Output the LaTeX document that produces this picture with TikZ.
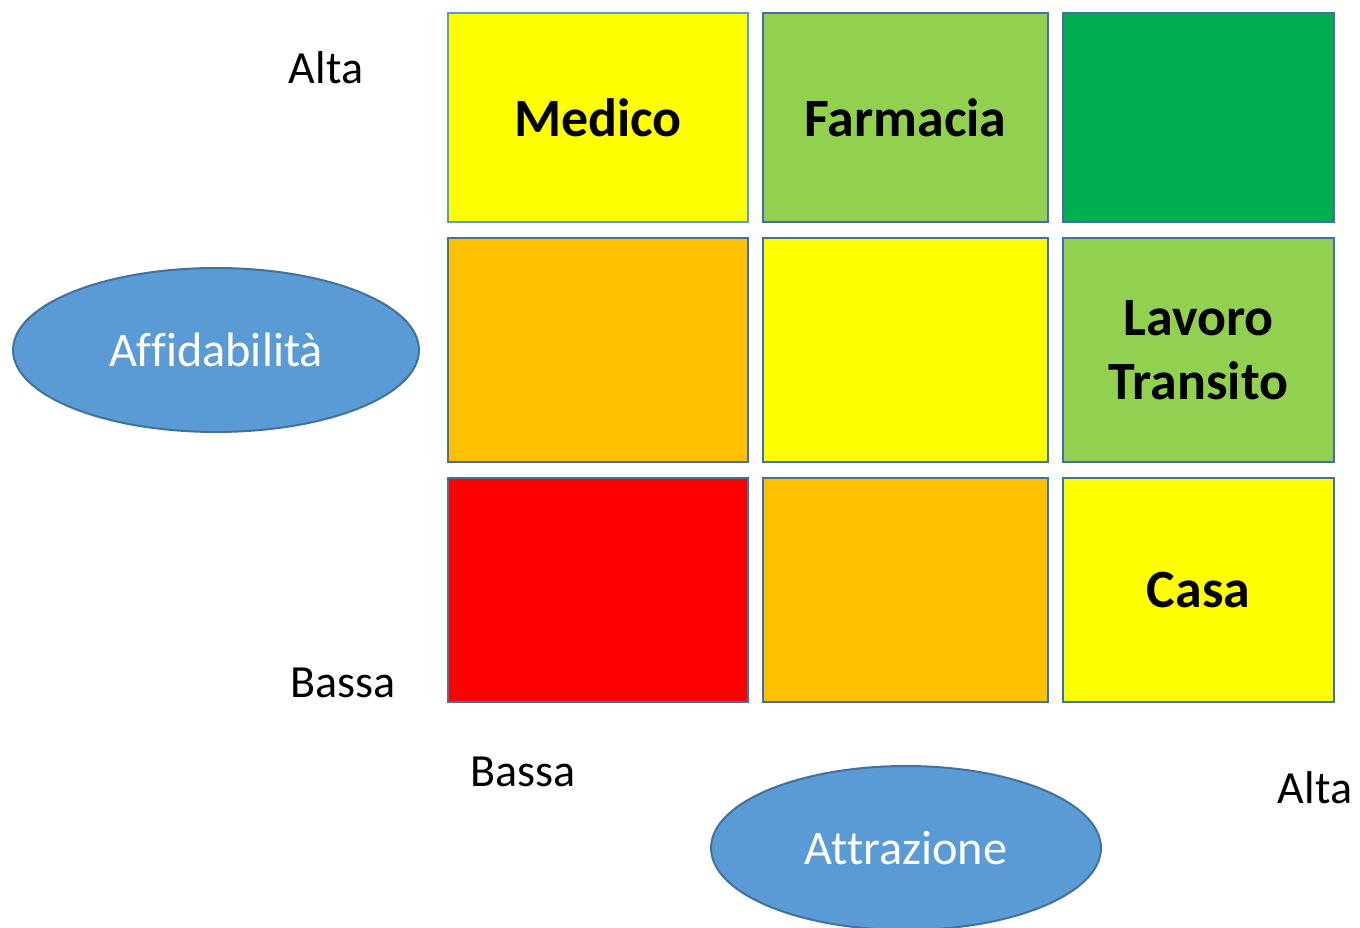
\documentclass[tikz,border=0pt]{standalone}
\usepackage{fontspec}
\setmainfont{Carlito}[Ligatures=NoCommon]
\usetikzlibrary{shapes.geometric}
\definecolor{cyel}{HTML}{FFFF00}
\definecolor{clime}{HTML}{92D050}
\definecolor{cgreen}{HTML}{00B050}
\definecolor{corange}{HTML}{FFC000}
\definecolor{cred}{HTML}{FF0000}
\definecolor{cellline}{HTML}{41719C}
\definecolor{lightline}{HTML}{5B9BD5}
\definecolor{blobfill}{HTML}{5B9BD5}
\begin{document}
\begin{tikzpicture}[x=0.02cm,y=-0.02cm]
\def\ca{598}
\def\cb{905.5}
\def\cc{1198.5}
\def\ra{117.5}
\def\rb{350}
\def\rc{590}

\tikzstyle cell=[draw=cellline, line width=0.04cm, inner sep=0pt, minimum height=4.48cm]
\tikzstyle word=[font=\fontsize{30.7}{36.4}\selectfont\bfseries, align=center]
\tikzstyle axis=[font=\fontsize{26.2}{30}\selectfont]
\tikzstyle blob=[ellipse, draw=cellline, fill=blobfill, line width=0.04cm, inner sep=0pt, minimum height=3.28cm, text=white, font=\fontsize{27.5}{30}\selectfont]

\useasboundingbox (0,0) rectangle (1360,928);

% top row
\node[cell, word, fill=cyel, draw=lightline, minimum width=6cm, minimum height=4.18cm] (m11) at (\ca,\ra) {Medico};
\node[cell, word, fill=clime, minimum width=5.7cm, minimum height=4.18cm] (m12) at (\cb,\ra) {Farmacia};
\node[cell, fill=cgreen, minimum width=5.42cm, minimum height=4.18cm] (m13) at (\cc,\ra) {};
% middle row
\node[cell, fill=corange, minimum width=6cm] (m21) at (\ca,\rb) {};
\node[cell, fill=cyel, minimum width=5.7cm] (m22) at (\cb,\rb) {};
\node[cell, word, fill=clime, minimum width=5.42cm] (m23) at (\cc,\rb) {Lavoro\\Transito};
% bottom row
\node[cell, fill=cred, minimum width=6cm] (m31) at (\ca,\rc) {};
\node[cell, fill=corange, minimum width=5.7cm] (m32) at (\cb,\rc) {};
\node[cell, word, fill=cyel, minimum width=5.42cm] (m33) at (\cc,\rc) {Casa};

\node[blob, minimum width=8.12cm] (aff) at (216,350) {Affidabilità};
\node[blob, minimum width=7.8cm] (attr) at (906,848) {Attrazione};

\node[axis] (yhi) at (326,68) {Alta};
\node[axis] (ylo) at (343,683) {Bassa};
\node[axis] (xlo) at (523,772) {Bassa};
\node[axis] (xhi) at (1315,788) {Alta};
\end{tikzpicture}
\end{document}
